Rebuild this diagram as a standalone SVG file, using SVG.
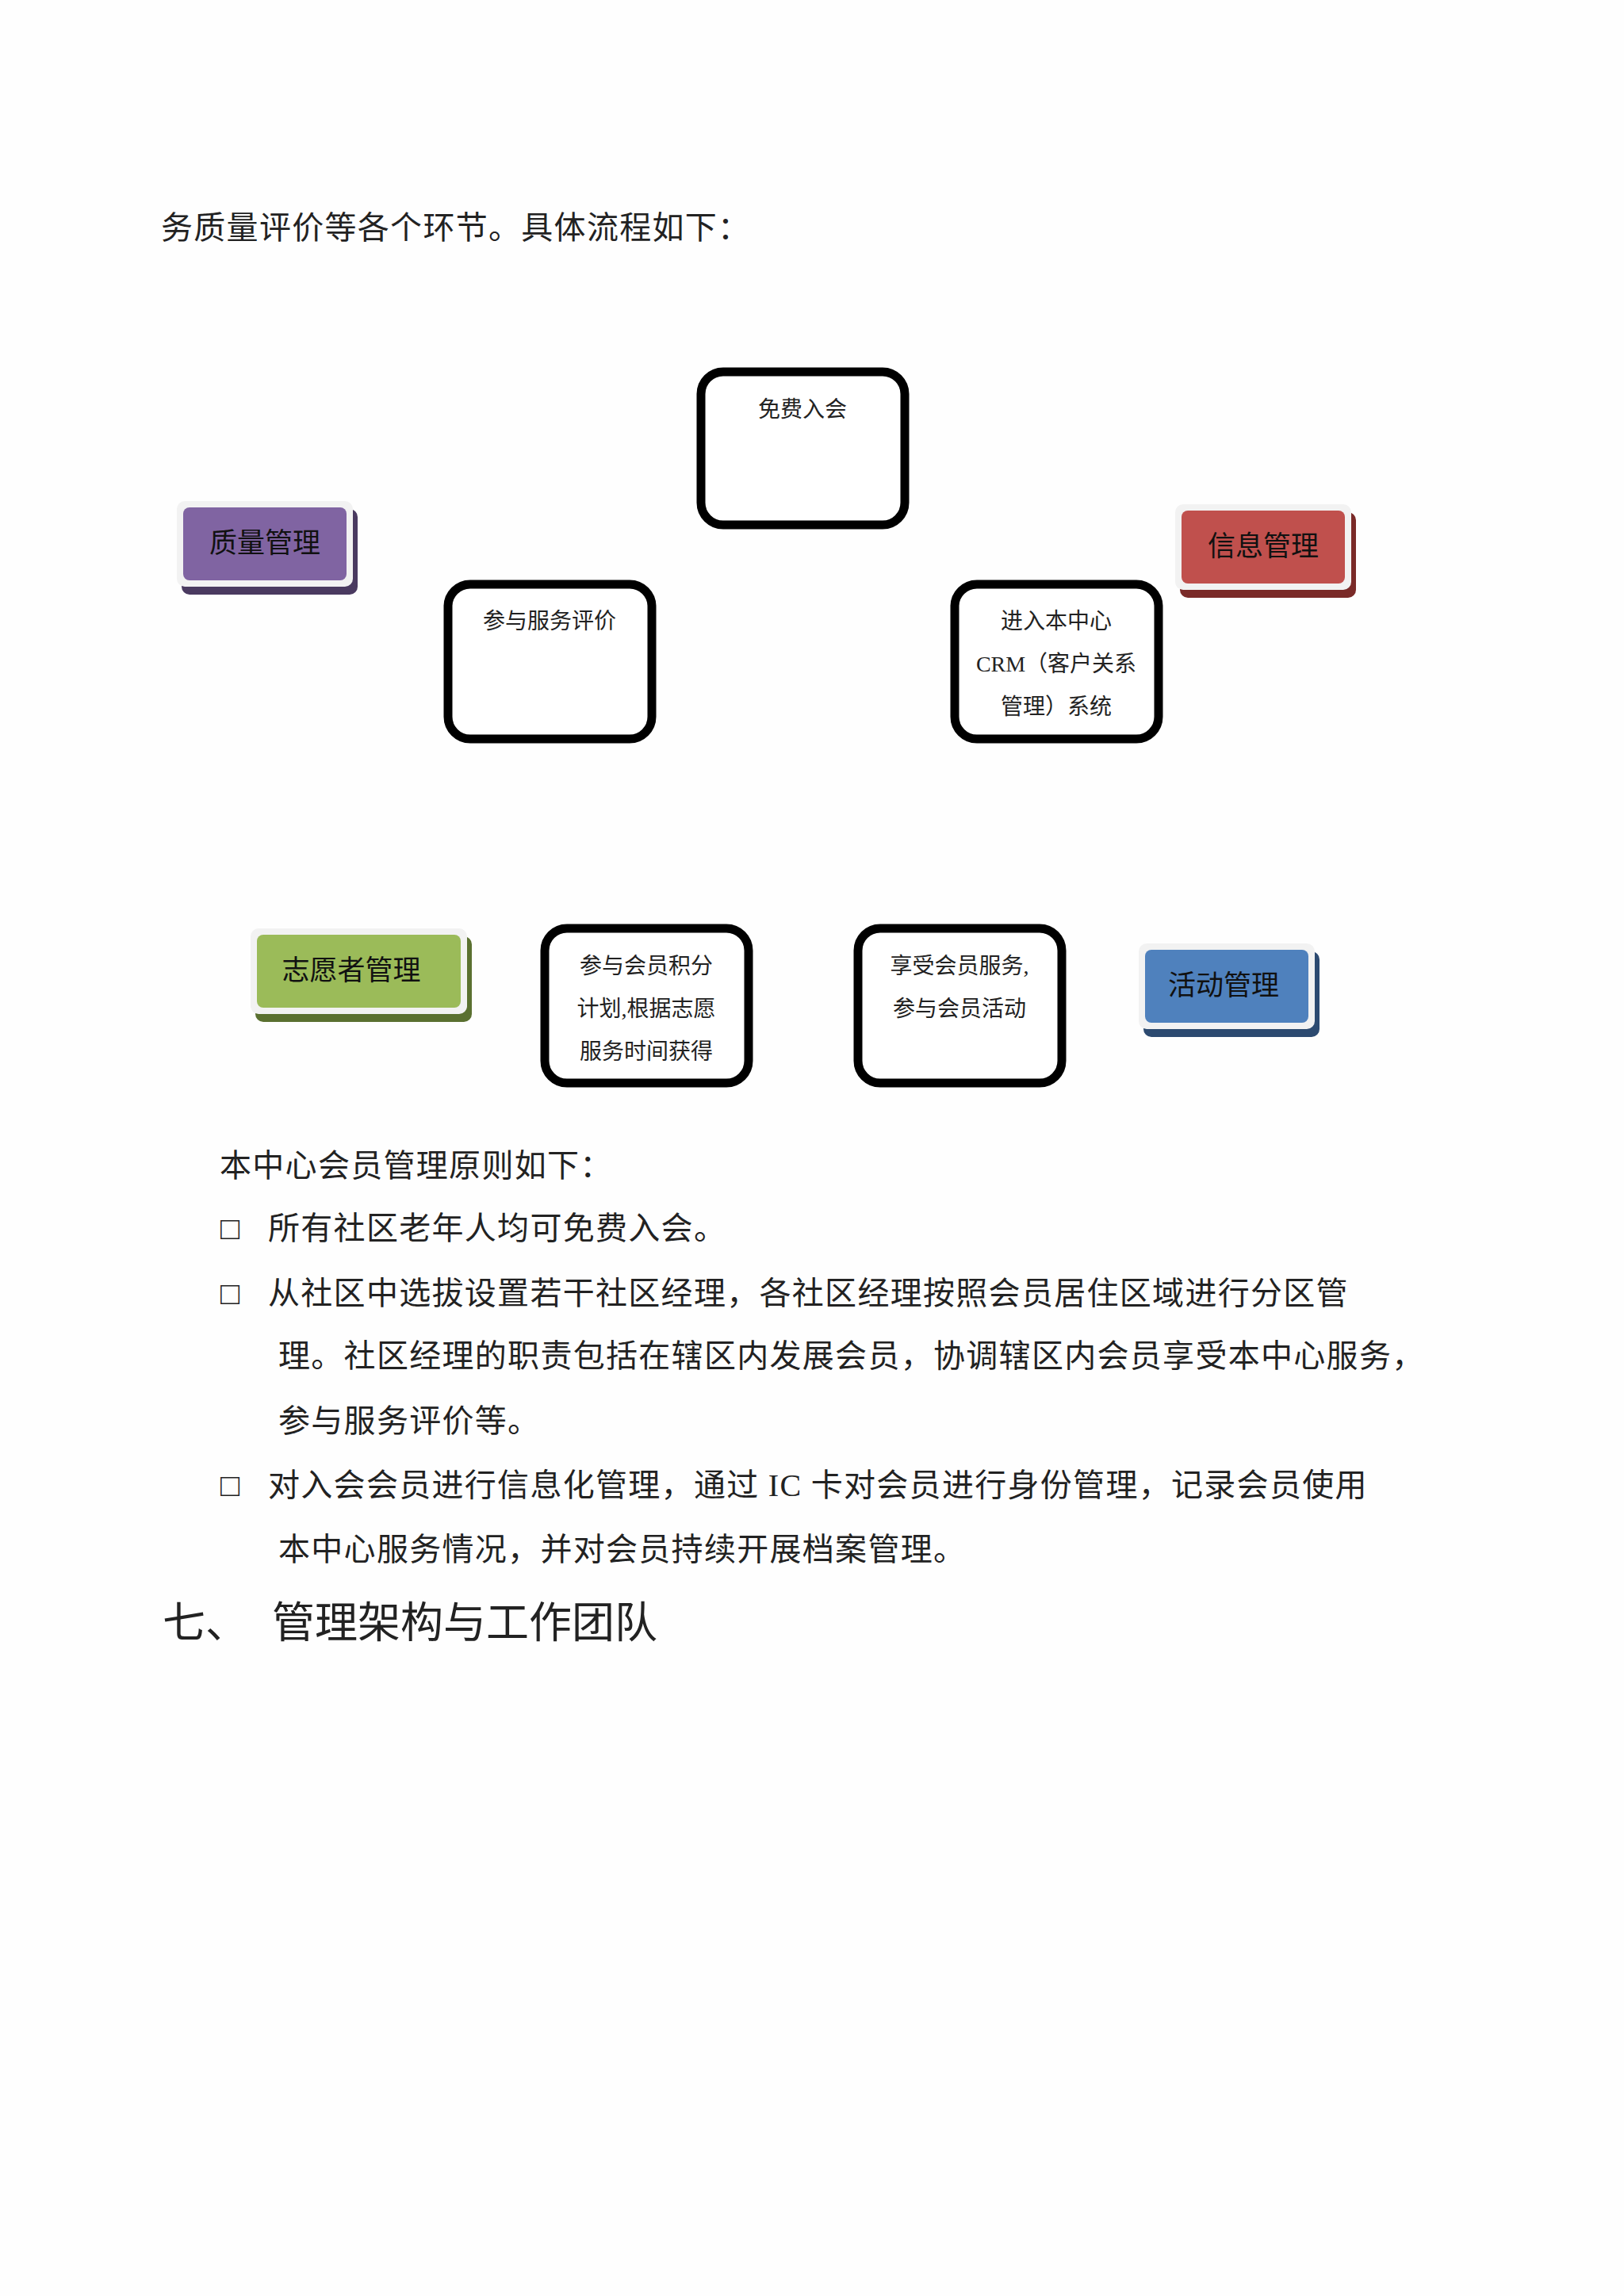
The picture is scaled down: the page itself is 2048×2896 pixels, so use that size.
<svg xmlns="http://www.w3.org/2000/svg" width="2048" height="2896" viewBox="0 0 2048 2896">
<style>
text{font-family:"Liberation Serif","Noto Sans CJK SC",serif;fill:#222}
.body{font-size:40px;letter-spacing:1.3px}
.box rect.o{fill:#fff;stroke:#000;stroke-width:11}
.box text{font-size:28px;text-anchor:middle}
.lab text{font-size:35px;text-anchor:middle;fill:#111}
.h{font-family:"Noto Sans CJK SC","Liberation Sans",sans-serif;font-size:54px}
</style>
<rect width="2048" height="2896" fill="#fefefe"/>
<text class="body" x="203" y="301">务质量评价等各个环节。具体流程如下：</text>
<g id="n1" class="box"><rect class="o" x="884" y="469" width="257" height="193" rx="28"/><text x="1012" y="526">免费入会</text></g>
<g id="n2" class="box"><rect class="o" x="565" y="737" width="257" height="195" rx="28"/><text x="693" y="793">参与服务评价</text></g>
<g id="n3" class="box"><rect class="o" x="1204" y="737" width="257" height="195" rx="28"/><text x="1332" y="793">进入本中心</text><text x="1332" y="847">CRM（客户关系</text><text x="1332" y="901">管理）系统</text></g>
<g id="n4" class="box"><rect class="o" x="687" y="1171" width="257" height="195" rx="28"/><text x="815" y="1228">参与会员积分</text><text x="815" y="1282">计划,根据志愿</text><text x="815" y="1336">服务时间获得</text></g>
<g id="n5" class="box"><rect class="o" x="1082" y="1171" width="257" height="195" rx="28"/><text x="1210" y="1228">享受会员服务,</text><text x="1210" y="1282">参与会员活动</text></g>
<g id="q" class="lab"><rect x="229" y="642" width="222" height="108" rx="10" fill="#4a3a60"/><rect x="223" y="632" width="222" height="108" rx="10" fill="#f2f2f2"/><rect x="231" y="640" width="206" height="92" rx="8" fill="#8064A2"/><text x="334" y="697">质量管理</text></g>
<g id="x" class="lab"><rect x="1488" y="646" width="222" height="108" rx="10" fill="#7a2a28"/><rect x="1482" y="636" width="222" height="108" rx="10" fill="#f2f2f2"/><rect x="1490" y="644" width="206" height="92" rx="8" fill="#C0504D"/><text x="1593" y="701">信息管理</text></g>
<g id="z" class="lab"><rect x="322" y="1181" width="273" height="108" rx="10" fill="#5a7030"/><rect x="316" y="1171" width="273" height="108" rx="10" fill="#f2f2f2"/><rect x="324" y="1179" width="257" height="92" rx="8" fill="#9BBB59"/><text x="443" y="1236">志愿者管理</text></g>
<g id="h" class="lab"><rect x="1442" y="1200" width="222" height="108" rx="10" fill="#2c4a70"/><rect x="1436" y="1190" width="222" height="108" rx="10" fill="#f2f2f2"/><rect x="1444" y="1198" width="206" height="92" rx="8" fill="#4F81BD"/><text x="1543" y="1255">活动管理</text></g>
<g id="connectors"></g>
<text class="body" x="277" y="1484">本中心会员管理原则如下：</text>
<text class="body" x="278" y="1563">□</text><text class="body" x="338" y="1563">所有社区老年人均可免费入会。</text>
<text class="body" x="278" y="1645">□</text><text class="body" x="338" y="1645">从社区中选拔设置若干社区经理，各社区经理按照会员居住区域进行分区管</text>
<text class="body" x="351" y="1724">理。社区经理的职责包括在辖区内发展会员，协调辖区内会员享受本中心服务，</text>
<text class="body" x="351" y="1806">参与服务评价等。</text>
<text class="body" x="278" y="1887">□</text><text class="body" x="338" y="1887">对入会会员进行信息化管理，通过 IC 卡对会员进行身份管理，记录会员使用</text>
<text class="body" x="351" y="1968">本中心服务情况，并对会员持续开展档案管理。</text>
<text class="h" x="205" y="2066">七、</text><text class="h" x="343" y="2066">管理架构与工作团队</text>
</svg>
